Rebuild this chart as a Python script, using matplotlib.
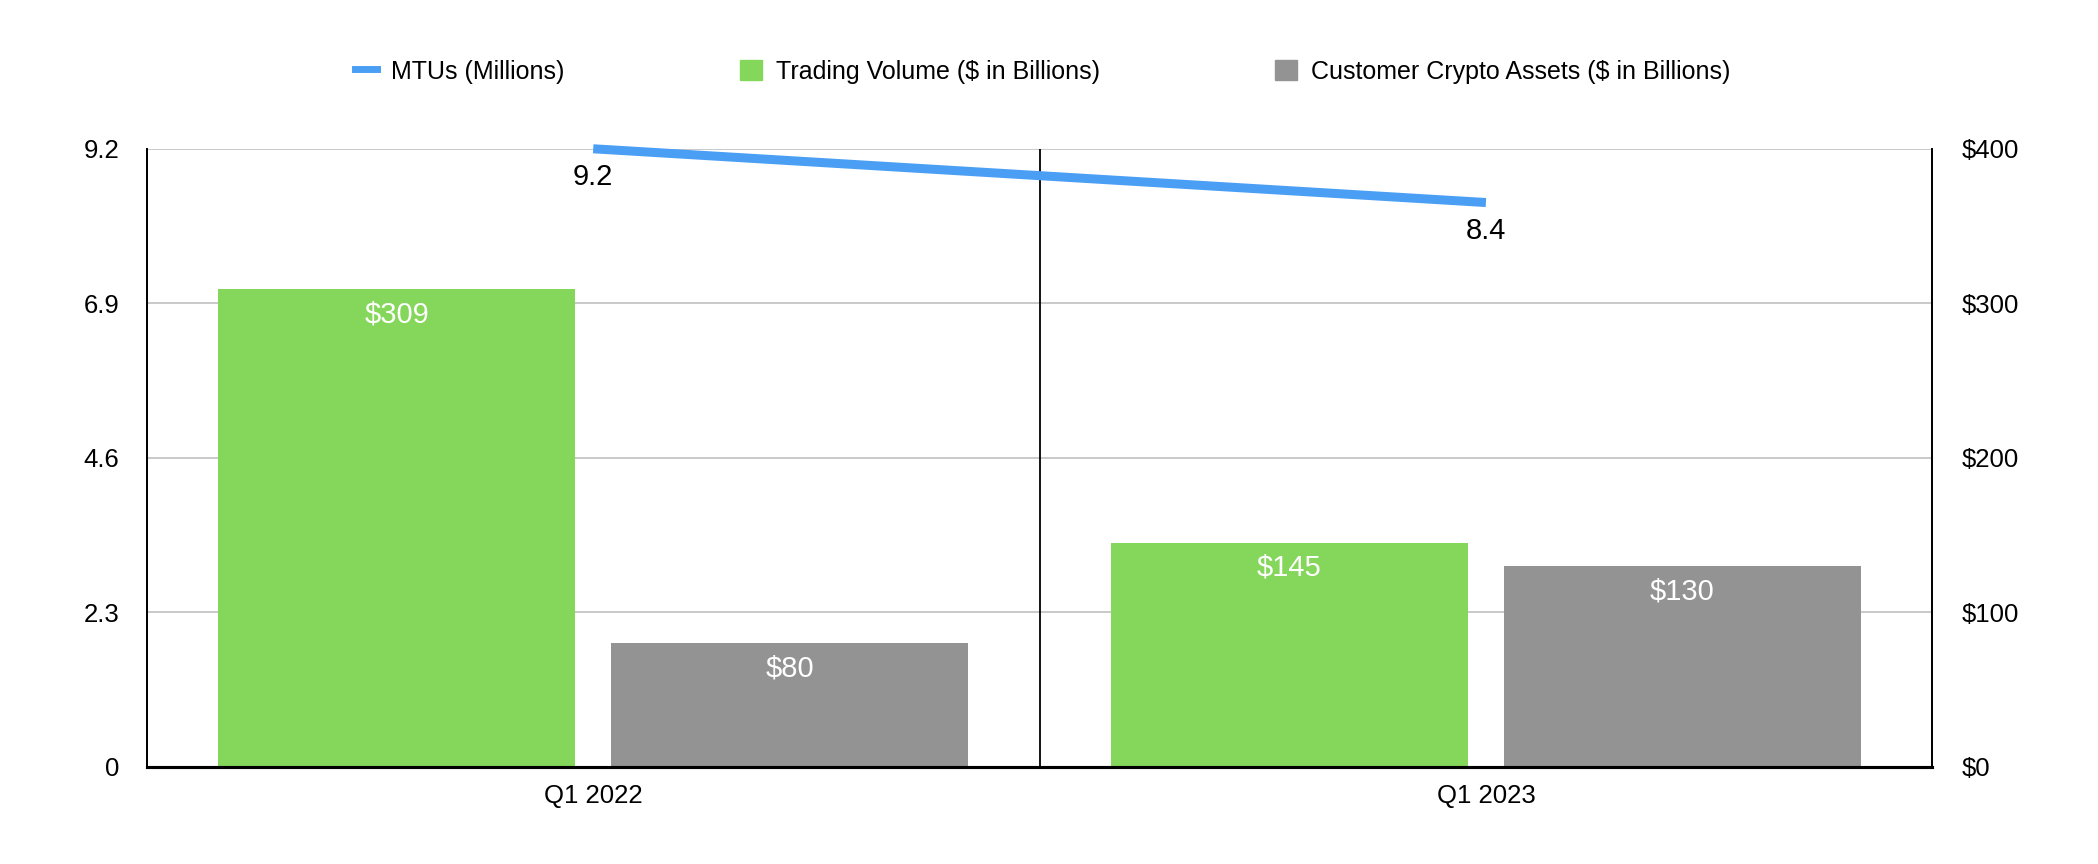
import numpy as np
import matplotlib
matplotlib.use('Agg')
import matplotlib.pyplot as plt
from matplotlib.patches import Patch
from matplotlib.lines import Line2D

plt.rcParams['font.family'] = ['Liberation Sans', 'DejaVu Sans']

quarters = ['Q1 2022', 'Q1 2023']
mtus = [9.2, 8.4]
trading_volume = [309, 145]
crypto_assets = [80, 130]
left_ticks = [0, 2.3, 4.6, 6.9, 9.2]
right_ticks = [0, 100, 200, 300, 400]

blue = '#4A9FF5'
green = '#84D75A'
gray = '#939393'

fig = plt.figure(figsize=(20.98, 8.64), dpi=100)
ax = fig.add_axes([0.070, 0.1123, 0.851, 0.7155])
ax2 = ax.twinx()

x = np.arange(len(quarters))
w = 0.4
off = 0.22

# bars on the right ($) axis
b1 = ax2.bar(x - off, trading_volume, w, color=green, zorder=2)
b2 = ax2.bar(x + off, crypto_assets, w, color=gray, zorder=2)
for bars, vals in [(b1, trading_volume), (b2, crypto_assets)]:
    for r, v in zip(bars, vals):
        ax2.annotate('$%d' % v, (r.get_x() + r.get_width() / 2, r.get_height()),
                     xytext=(0, -25), textcoords='offset pixels', ha='center', va='center',
                     color='white', fontsize=21)

ax2.set_ylim(0, 400)
ax2.set_yticks(right_ticks)
ax2.set_yticklabels(['$%d' % t for t in right_ticks])

# line on the left axis, drawn on top
ax.set_zorder(ax2.get_zorder() + 1)
ax.patch.set_visible(False)
ax.plot(x, mtus, color=blue, lw=6.5, solid_capstyle='butt', zorder=3, clip_on=False)
for xi, v in zip(x, mtus):
    ax.annotate('%.1f' % v, (xi, v), xytext=(0, -28), textcoords='offset pixels',
                ha='center', va='center', fontsize=21, color='black')

ax.set_ylim(0, 9.2)
ax.set_yticks(left_ticks)
ax.set_yticklabels([('%g' % t) for t in left_ticks])
ax.set_xlim(-0.5, 1.5)
ax.set_xticks(x)
ax.set_xticklabels(quarters)

# grid lines on the bar axis (beneath everything)
for t in right_ticks[1:]:
    ax2.axhline(t, color='#c0c0c0', lw=1.2, zorder=0)
ax.axvline(0.5, color='black', lw=1.3, zorder=1)

for a in (ax, ax2):
    a.tick_params(length=0, labelsize=18.5)
    a.spines['top'].set_visible(False)
    for s in ('left', 'right'):
        a.spines[s].set_linewidth(1.3)
    a.spines['bottom'].set_linewidth(2.2)
ax.tick_params(axis='y', pad=20)
ax2.tick_params(axis='y', pad=21)
ax.tick_params(axis='x', pad=12)

handles = [Line2D([0], [0], color=blue, lw=5),
           Patch(color=green), Patch(color=gray)]
labels = ['MTUs (Millions)', 'Trading Volume ($ in Billions)',
          'Customer Crypto Assets ($ in Billions)']
fig.legend(handles, labels, loc='center', bbox_to_anchor=(0.497, 0.917), ncol=3,
           frameon=False, fontsize=18, handlelength=0.9, handleheight=0.9,
           handletextpad=0.55, columnspacing=7.0)

fig.savefig('out.png', dpi=100)
